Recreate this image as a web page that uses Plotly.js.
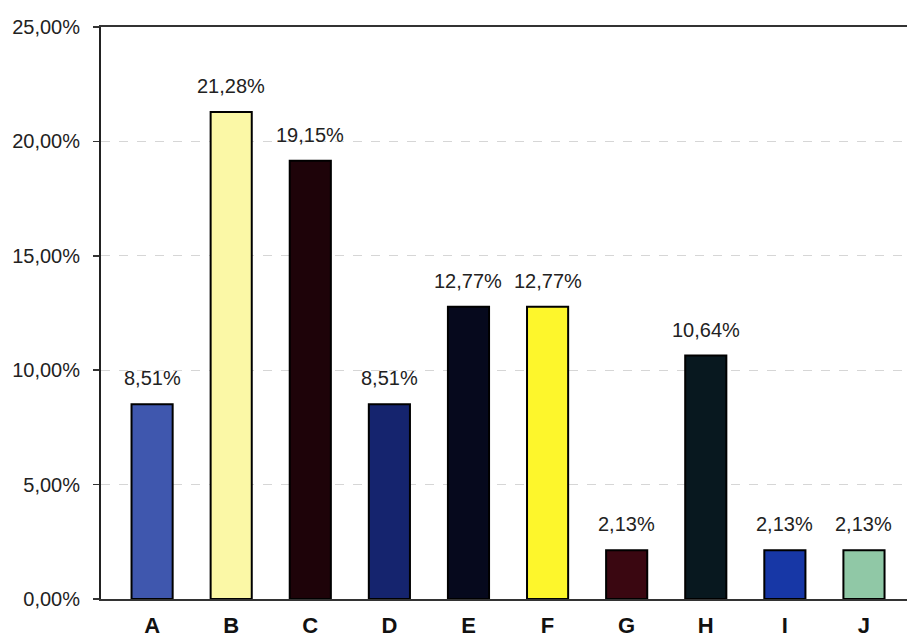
<!DOCTYPE html>
<html>
<head>
<meta charset="utf-8">
<script src="https://cdn.plot.ly/plotly-3.0.1.min.js"></script>
<style>
  html, body { margin: 0; padding: 0; background: #fff; }
  #chart { width: 907px; height: 641px; }
</style>
</head>
<body>
<div id="chart"></div>
<script>
// Share of responses per category, in percent
const categories = ['A', 'B', 'C', 'D', 'E', 'F', 'G', 'H', 'I', 'J'];
const shares = [8.51, 21.28, 19.15, 8.51, 12.77, 12.77, 2.13, 10.64, 2.13, 2.13];
const barColors = ['#3f57ae', '#fbf8a6', '#1e0309', '#15246e', '#06091d',
                   '#fdf62c', '#3a0711', '#08181f', '#1737a6', '#90c8a6'];
const yTicks = [0, 5, 10, 15, 20, 25];

const fmt = v => v.toFixed(2).replace('.', ',') + '%';

const bars = {
  type: 'bar',
  x: categories,
  y: shares,
  width: 0.52,
  marker: { color: barColors, line: { color: '#000', width: 2 } },
  hoverinfo: 'skip'
};

const labels = categories.map((c, i) => ({
  x: c,
  y: shares[i],
  text: fmt(shares[i]),
  showarrow: false,
  xanchor: 'center',
  yanchor: 'bottom',
  yshift: 13,
  font: { family: 'Liberation Sans, Arial, sans-serif', size: 20, color: '#222' }
}));

const layout = {
  width: 907,
  height: 641,
  margin: { l: 101, r: 0, t: 27, b: 42 },
  paper_bgcolor: '#fff',
  plot_bgcolor: '#fff',
  showlegend: false,
  font: { family: 'Liberation Sans, Arial, sans-serif', color: '#222' },
  xaxis: {
    type: 'category',
    range: [-0.646, 9.544],
    showline: true,
    mirror: true,
    linecolor: '#333',
    linewidth: 2,
    ticks: '',
    showgrid: false,
    ticklabelstandoff: 6,
    tickfont: { size: 22, color: '#111', family: 'Liberation Sans, Arial, sans-serif', weight: 'bold' },
    fixedrange: true
  },
  yaxis: {
    range: [0, 25],
    tickvals: yTicks,
    ticktext: yTicks.map(fmt),
    showline: true,
    linecolor: '#222',
    linewidth: 2,
    ticks: 'outside',
    ticklen: 6,
    tickwidth: 1.5,
    tickcolor: '#333',
    ticklabelstandoff: 9,
    showgrid: true,
    gridcolor: '#d6d6d6',
    griddash: 'dash',
    gridwidth: 1,
    zeroline: false,
    tickfont: { size: 20, color: '#222' },
    fixedrange: true
  },
  annotations: labels
};

Plotly.newPlot('chart', [bars], layout, { displayModeBar: false, staticPlot: true });
</script>
</body>
</html>
